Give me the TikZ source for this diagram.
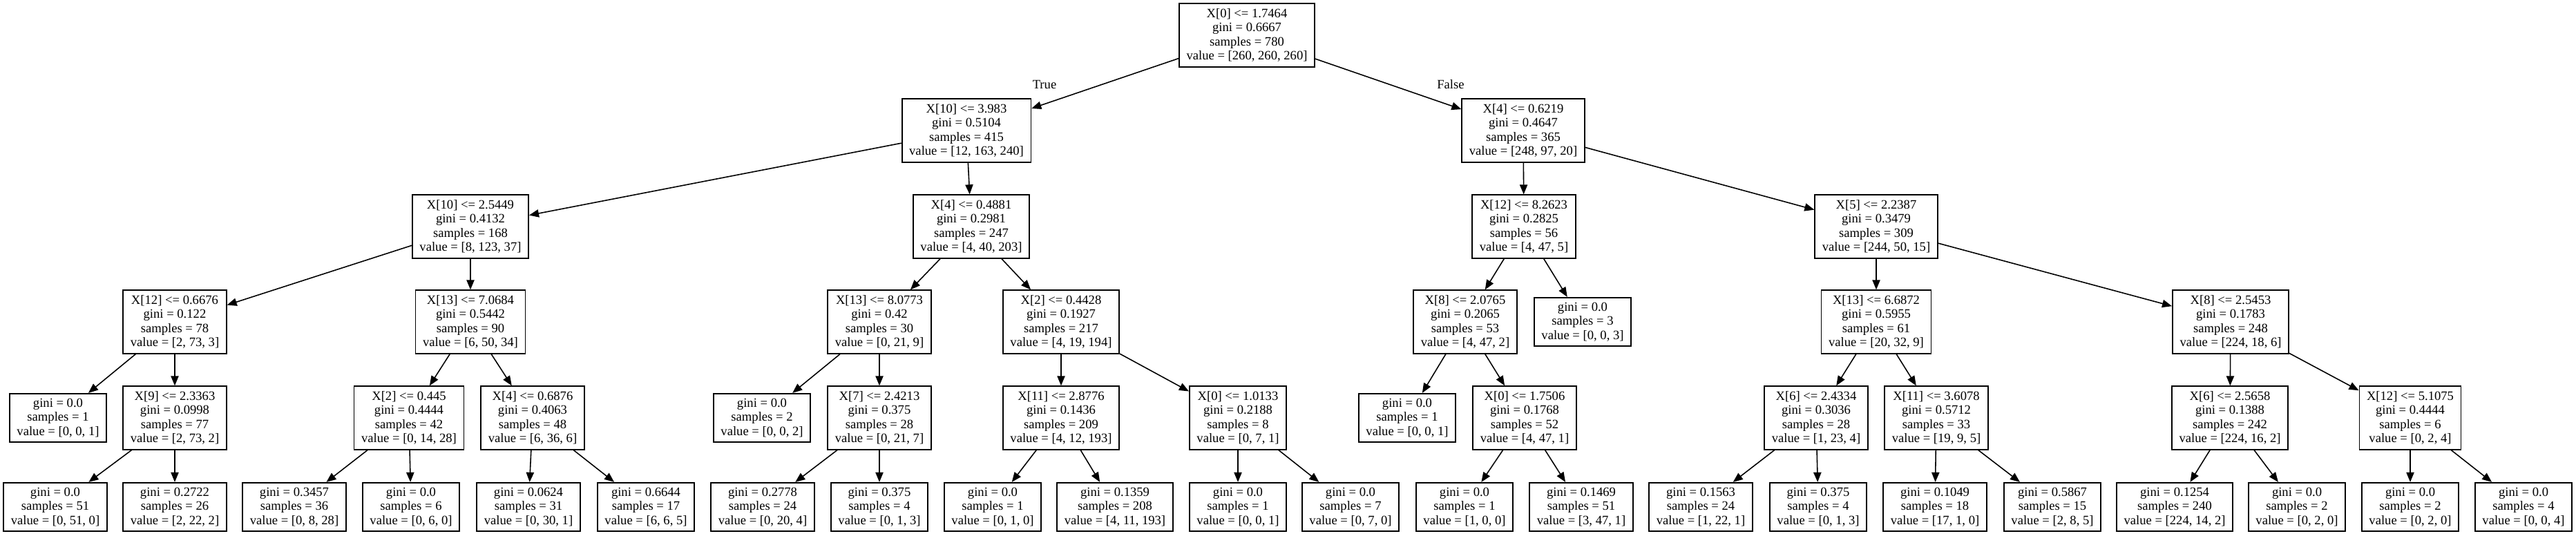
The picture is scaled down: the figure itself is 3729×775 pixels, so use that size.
\documentclass[tikz,border=0pt]{standalone}
\usepackage{fontspec}
\setmainfont{Liberation Serif}
\usepackage{tikz}
\usetikzlibrary{arrows.meta}
\tikzset{
  treenode/.style={draw,line width=0.5pt,align=center,inner xsep=3pt,inner ysep=2pt,
    font=\fontsize{5.3}{5.85}\selectfont},
  branch/.style={-{Triangle[length=4pt,width=3.2pt]},line width=0.45pt},
  sidelbl/.style={font=\fontsize{5.3}{5.85}\selectfont}
}

\begin{document}
\begin{tikzpicture}[x=0.1mm,y=-0.1mm]
  \useasboundingbox (0,0) rectangle (3729,775);
  % root and first split
  \node[treenode] (n0) at (1805,51) {X[0] <= 1.7464\\gini = 0.6667\\samples = 780\\value = [260, 260, 260]};
  \node[treenode] (n1) at (1399,189) {X[10] <= 3.983\\gini = 0.5104\\samples = 415\\value = [12, 163, 240]};
  \node[treenode] (n28) at (2205,189) {X[4] <= 0.6219\\gini = 0.4647\\samples = 365\\value = [248, 97, 20]};
  \node[sidelbl] (truelbl) at (1512,122) {True};
  \node[sidelbl] (falselbl) at (2100,122) {False};
  % left branch
  \node[treenode] (n2) at (681,328) {X[10] <= 2.5449\\gini = 0.4132\\samples = 168\\value = [8, 123, 37]};
  \node[treenode] (n3) at (253,466) {X[12] <= 0.6676\\gini = 0.122\\samples = 78\\value = [2, 73, 3]};
  \node[treenode] (n4) at (84,605) {gini = 0.0\\samples = 1\\value = [0, 0, 1]};
  \node[treenode] (n5) at (253,605) {X[9] <= 2.3363\\gini = 0.0998\\samples = 77\\value = [2, 73, 2]};
  \node[treenode] (n6) at (80,734) {gini = 0.0\\samples = 51\\value = [0, 51, 0]};
  \node[treenode] (n7) at (253,734) {gini = 0.2722\\samples = 26\\value = [2, 22, 2]};
  \node[treenode] (n8) at (681,466) {X[13] <= 7.0684\\gini = 0.5442\\samples = 90\\value = [6, 50, 34]};
  \node[treenode] (n9) at (592,605) {X[2] <= 0.445\\gini = 0.4444\\samples = 42\\value = [0, 14, 28]};
  \node[treenode] (n10) at (426,734) {gini = 0.3457\\samples = 36\\value = [0, 8, 28]};
  \node[treenode] (n11) at (595,734) {gini = 0.0\\samples = 6\\value = [0, 6, 0]};
  \node[treenode] (n12) at (771,605) {X[4] <= 0.6876\\gini = 0.4063\\samples = 48\\value = [6, 36, 6]};
  \node[treenode] (n13) at (765,734) {gini = 0.0624\\samples = 31\\value = [0, 30, 1]};
  \node[treenode] (n14) at (935,734) {gini = 0.6644\\samples = 17\\value = [6, 6, 5]};
  \node[treenode] (n15) at (1406,328) {X[4] <= 0.4881\\gini = 0.2981\\samples = 247\\value = [4, 40, 203]};
  \node[treenode] (n16) at (1273,466) {X[13] <= 8.0773\\gini = 0.42\\samples = 30\\value = [0, 21, 9]};
  \node[treenode] (n17) at (1103,605) {gini = 0.0\\samples = 2\\value = [0, 0, 2]};
  \node[treenode] (n18) at (1273,605) {X[7] <= 2.4213\\gini = 0.375\\samples = 28\\value = [0, 21, 7]};
  \node[treenode] (n19) at (1104,734) {gini = 0.2778\\samples = 24\\value = [0, 20, 4]};
  \node[treenode] (n20) at (1273,734) {gini = 0.375\\samples = 4\\value = [0, 1, 3]};
  \node[treenode] (n21) at (1536,466) {X[2] <= 0.4428\\gini = 0.1927\\samples = 217\\value = [4, 19, 194]};
  \node[treenode] (n22) at (1536,605) {X[11] <= 2.8776\\gini = 0.1436\\samples = 209\\value = [4, 12, 193]};
  \node[treenode] (n23) at (1437,734) {gini = 0.0\\samples = 1\\value = [0, 1, 0]};
  \node[treenode] (n24) at (1614,734) {gini = 0.1359\\samples = 208\\value = [4, 11, 193]};
  \node[treenode] (n25) at (1792,605) {X[0] <= 1.0133\\gini = 0.2188\\samples = 8\\value = [0, 7, 1]};
  \node[treenode] (n26) at (1792,734) {gini = 0.0\\samples = 1\\value = [0, 0, 1]};
  \node[treenode] (n27) at (1955,734) {gini = 0.0\\samples = 7\\value = [0, 7, 0]};
  % right branch
  \node[treenode] (n29) at (2206,328) {X[12] <= 8.2623\\gini = 0.2825\\samples = 56\\value = [4, 47, 5]};
  \node[treenode] (n30) at (2121,466) {X[8] <= 2.0765\\gini = 0.2065\\samples = 53\\value = [4, 47, 2]};
  \node[treenode] (n31) at (2037,605) {gini = 0.0\\samples = 1\\value = [0, 0, 1]};
  \node[treenode] (n32) at (2207,605) {X[0] <= 1.7506\\gini = 0.1768\\samples = 52\\value = [4, 47, 1]};
  \node[treenode] (n33) at (2120,734) {gini = 0.0\\samples = 1\\value = [1, 0, 0]};
  \node[treenode] (n34) at (2289,734) {gini = 0.1469\\samples = 51\\value = [3, 47, 1]};
  \node[treenode] (n35) at (2291,466) {gini = 0.0\\samples = 3\\value = [0, 0, 3]};
  \node[treenode] (n36) at (2716,328) {X[5] <= 2.2387\\gini = 0.3479\\samples = 309\\value = [244, 50, 15]};
  \node[treenode] (n37) at (2716,466) {X[13] <= 6.6872\\gini = 0.5955\\samples = 61\\value = [20, 32, 9]};
  \node[treenode] (n38) at (2629,605) {X[6] <= 2.4334\\gini = 0.3036\\samples = 28\\value = [1, 23, 4]};
  \node[treenode] (n39) at (2462,734) {gini = 0.1563\\samples = 24\\value = [1, 22, 1]};
  \node[treenode] (n40) at (2632,734) {gini = 0.375\\samples = 4\\value = [0, 1, 3]};
  \node[treenode] (n41) at (2803,605) {X[11] <= 3.6078\\gini = 0.5712\\samples = 33\\value = [19, 9, 5]};
  \node[treenode] (n42) at (2801,734) {gini = 0.1049\\samples = 18\\value = [17, 1, 0]};
  \node[treenode] (n43) at (2971,734) {gini = 0.5867\\samples = 15\\value = [2, 8, 5]};
  \node[treenode] (n44) at (3229,466) {X[8] <= 2.5453\\gini = 0.1783\\samples = 248\\value = [224, 18, 6]};
  \node[treenode] (n45) at (3228,605) {X[6] <= 2.5658\\gini = 0.1388\\samples = 242\\value = [224, 16, 2]};
  \node[treenode] (n46) at (3148,734) {gini = 0.1254\\samples = 240\\value = [224, 14, 2]};
  \node[treenode] (n47) at (3325,734) {gini = 0.0\\samples = 2\\value = [0, 2, 0]};
  \node[treenode] (n48) at (3489,605) {X[12] <= 5.1075\\gini = 0.4444\\samples = 6\\value = [0, 2, 4]};
  \node[treenode] (n49) at (3489,734) {gini = 0.0\\samples = 2\\value = [0, 2, 0]};
  \node[treenode] (n50) at (3653,734) {gini = 0.0\\samples = 4\\value = [0, 0, 4]};
  % edges
  \foreach \a/\b in {0/1,0/28,1/2,1/15,2/3,2/8,3/4,3/5,5/6,5/7,8/9,8/12,9/10,9/11,
      12/13,12/14,15/16,15/21,16/17,16/18,18/19,18/20,21/22,21/25,22/23,22/24,
      25/26,25/27,28/29,28/36,29/30,29/35,30/31,30/32,32/33,32/34,36/37,36/44,
      37/38,37/41,38/39,38/40,41/42,41/43,44/45,44/48,45/46,45/47,48/49,48/50}
    \draw[branch] (n\a) -- (n\b);
\end{tikzpicture}
\end{document}
